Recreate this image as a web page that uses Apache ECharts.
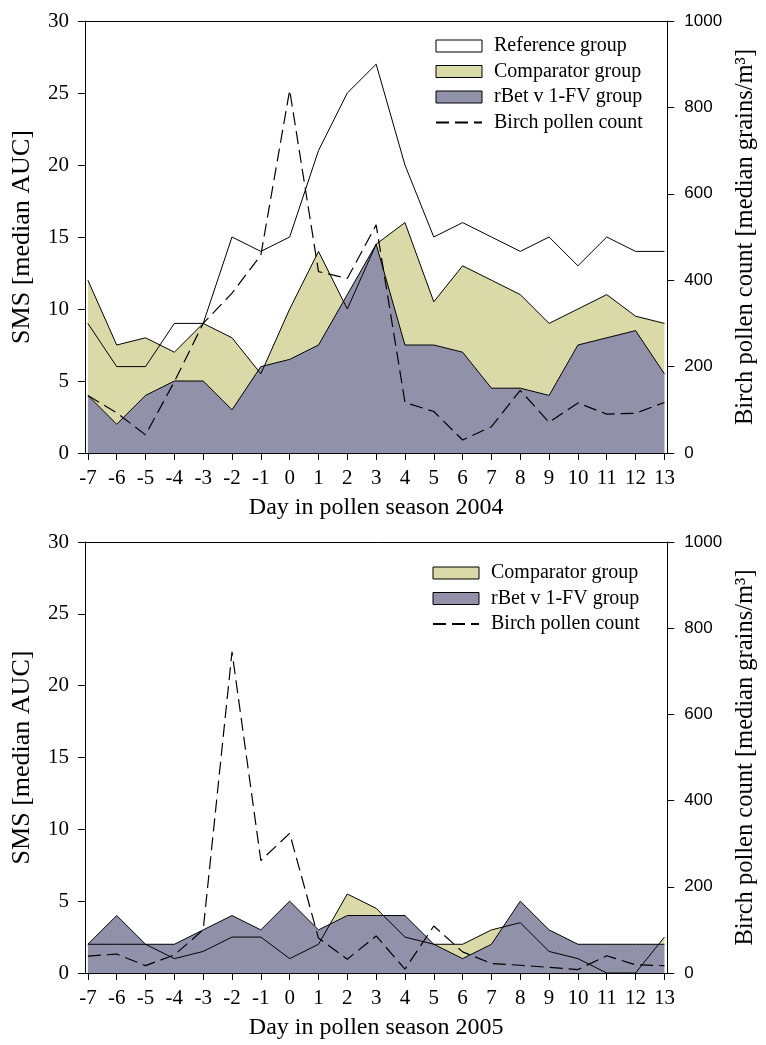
<!DOCTYPE html>
<html><head><meta charset="utf-8">
<script src="https://cdn.jsdelivr.net/npm/echarts@6/dist/echarts.min.js"></script>
<style>html,body{margin:0;padding:0;background:#fff}#c{width:766px;height:1045px}</style>
</head><body><div id="c"></div>
<script>
// ---- data ----
const days = [-7,-6,-5,-4,-3,-2,-1,0,1,2,3,4,5,6,7,8,9,10,11,12,13];
const ref2004    = [9,6,6,9,9,15,14,15,21,25,27,20,15,16,15,14,15,13,15,14,14];
const comp2004   = [12,7.5,8,7,9,8,5.5,10,14,10,14.5,16,10.5,13,12,11,9,10,11,9.5,9];
const rbet2004   = [4,2,4,5,5,3,6,6.5,7.5,11,14.5,7.5,7.5,7,4.5,4.5,4,7.5,8,8.5,5.5];
const pollen2004 = [133,93,42,165,300,370,458,840,420,404,528,117,96,30,61,145,71,116,90,92,117];
const comp2005   = [2,2,2,1,1.5,2.5,2.5,1,2,5.5,4.5,2.5,2,2,3,3.5,1.5,1,0,0,2.5];
const rbet2005   = [2,4,2,2,3,4,3,5,3,4,4,4,2,1,2,5,3,2,2,2,2];
const pollen2005 = [39,44,17,42,100,745,261,324,81,32,86,9,109,49,22,18,13,8,40,19,17];
const smsTicks = [0,5,10,15,20,25,30];
const pollenTicks = [0,200,400,600,800,1000];

// ---- styles ----
const SERIF = '"Liberation Serif","Times New Roman",serif';
const SANS = '"Liberation Sans",Arial,sans-serif';
const YEL = '#dadaa9', PUR = '#9191a9';
const pairs = arr => days.map((d, i) => [d, arr[i]]);

function xAxes(gi, title) {
  return [{
    type: 'value', gridIndex: gi, min: -7.1, max: 13.1,
    axisLine: {show: true, onZero: false, lineStyle: {color: '#000', width: 1}},
    axisTick: {show: true, customValues: days, length: 7, lineStyle: {color: '#000'}},
    axisLabel: {customValues: days, fontFamily: SERIF, fontSize: 21, color: '#000', margin: 15},
    splitLine: {show: false},
    name: title, nameLocation: 'middle', nameGap: 43,
    nameTextStyle: {fontFamily: SERIF, fontSize: 24, color: '#000'}
  }, {
    type: 'value', gridIndex: gi, position: 'top', min: -7.1, max: 13.1,
    axisLine: {show: true, onZero: false, lineStyle: {color: '#000', width: 1}},
    axisTick: {show: false}, axisLabel: {show: false}, splitLine: {show: false}
  }];
}
function yAxes(gi) {
  return [{
    type: 'value', gridIndex: gi, position: 'left', min: smsTicks[0], max: smsTicks[smsTicks.length-1], interval: 5,
    axisLine: {show: true, onZero: false, lineStyle: {color: '#000', width: 1}},
    axisTick: {show: true, length: 7, lineStyle: {color: '#000'}},
    axisLabel: {fontFamily: SERIF, fontSize: 21, color: '#000', margin: 16},
    splitLine: {show: false},
    name: 'SMS [median AUC]', nameLocation: 'middle', nameRotate: 90, nameGap: 50,
    nameTextStyle: {fontFamily: SERIF, fontSize: 26, color: '#000'}
  }, {
    type: 'value', gridIndex: gi, position: 'right', min: pollenTicks[0], max: pollenTicks[pollenTicks.length-1], interval: 200,
    axisLine: {show: true, onZero: false, lineStyle: {color: '#000', width: 1}},
    axisTick: {show: true, length: 7, lineStyle: {color: '#000'}},
    axisLabel: {fontFamily: SANS, fontSize: 17, color: '#000', margin: 17, formatter: v => String(v)},
    splitLine: {show: false},
    name: 'Birch pollen count [median grains/m³]', nameLocation: 'middle', nameRotate: 90, nameGap: 62,
    nameTextStyle: {fontFamily: SERIF, fontSize: 24.5, color: '#000'}
  }];
}
function area(name, xi, yi, arr, color) {
  return {name, type: 'line', xAxisIndex: xi, yAxisIndex: yi, data: pairs(arr), symbol: 'none',
    lineStyle: {width: 0, color: color}, areaStyle: {color: color, opacity: 1}, itemStyle: {color: color}};
}
function line(name, xi, yi, arr) {
  return {name, type: 'line', xAxisIndex: xi, yAxisIndex: yi, data: pairs(arr), symbol: 'none',
    lineStyle: {width: 1, color: '#000'}, itemStyle: {color: '#000'}};
}
function pollen(xi, yi, arr) {
  return {name: 'Birch pollen count', type: 'line', xAxisIndex: xi, yAxisIndex: yi, data: pairs(arr), symbol: 'none',
    lineStyle: {width: 1.2, color: '#000', type: [13, 6]}, itemStyle: {color: 'rgba(0,0,0,0)'}};
}
const legendBase = {
  orient: 'vertical', itemWidth: 46, itemHeight: 12, itemGap: 5.5, selectedMode: false, padding: 0,
  textStyle: {fontFamily: SERIF, fontSize: 20, color: '#000', lineHeight: 20, padding: [0, 0, 0, 7]}
};
const boxItem = (name, color) => ({name, icon: 'rect', itemStyle: {color, borderColor: '#000', borderWidth: 1}});

const chart = echarts.init(document.getElementById('c'));
chart.setOption({
  animation: false,
  backgroundColor: '#fff',
  grid: [
    {left: 85, right: 81, top: 21, height: 432},
    {left: 85, right: 81, top: 542, height: 431}
  ],
  xAxis: [...xAxes(0, 'Day in pollen season 2004'), ...xAxes(1, 'Day in pollen season 2005')],
  yAxis: [...yAxes(0), ...yAxes(1)],
  legend: [
    Object.assign({}, legendBase, {left: 435, top: 36, data: [
      boxItem('Reference group', '#fff'), boxItem('Comparator group', YEL), boxItem('rBet v 1-FV group', PUR), {name: 'Birch pollen count'}
    ]}),
    Object.assign({}, legendBase, {left: 432, top: 563, data: [
      boxItem('Comparator group', YEL), boxItem('rBet v 1-FV group', PUR), {name: 'Birch pollen count'}
    ]})
  ],
  series: [
    area('Reference group', 0, 0, ref2004, '#fff'),
    area('Comparator group', 0, 0, comp2004, YEL),
    area('rBet v 1-FV group', 0, 0, rbet2004, PUR),
    line('ref line 2004', 0, 0, ref2004),
    line('comp line 2004', 0, 0, comp2004),
    line('rbet line 2004', 0, 0, rbet2004),
    pollen(0, 1, pollen2004),
    area('Comparator group', 2, 2, comp2005, YEL),
    area('rBet v 1-FV group', 2, 2, rbet2005, PUR),
    line('comp line 2005', 2, 2, comp2005),
    line('rbet line 2005', 2, 2, rbet2005),
    pollen(2, 3, pollen2005)
  ]
});
</script></body></html>
